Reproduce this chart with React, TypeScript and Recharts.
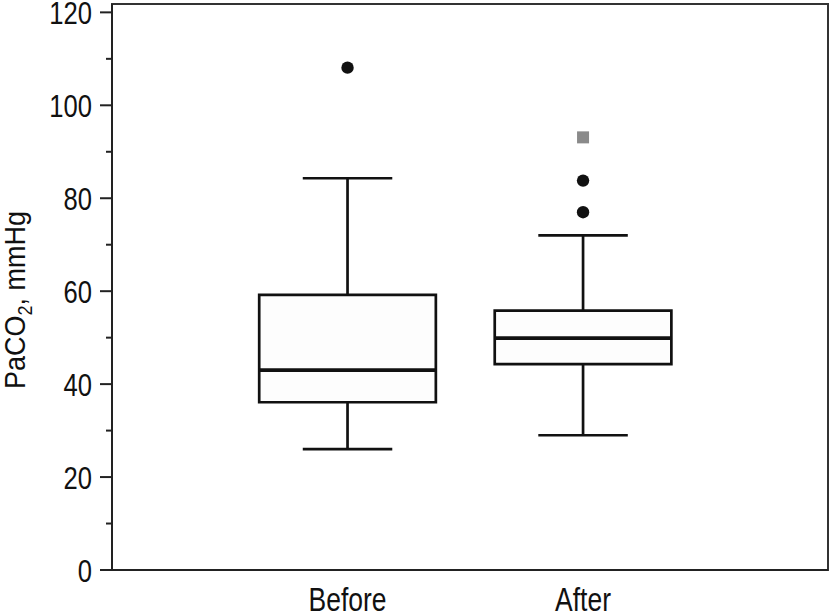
import React from 'react';
import {
  ComposedChart,
  XAxis,
  YAxis,
  Scatter,
  ReferenceArea,
  ReferenceLine,
  Label,
} from 'recharts';

// ---- data ----
const categories = ['Before', 'After'];
const whiskerLow = [26.0, 29.0];
const q1 = [36.1, 44.3];
const median = [43.0, 49.9];
const q3 = [59.2, 55.8];
const whiskerHigh = [84.3, 72.0];
const outliersCircle = [
  { x: 1, y: 108.1 },
  { x: 2, y: 83.8 },
  { x: 2, y: 77.0 },
];
const outliersSquare = [{ x: 2, y: 93.1 }];
const yTicks = [0, 10, 20, 30, 40, 50, 60, 70, 80, 90, 100, 110, 120];
const xTicks = [1, 2];

const Y_MAX = 121.8;
const X_MAX = 3.04;
const BOX_HALF = 0.375;
const CAP_HALF = 0.19;

const FONT = "'Liberation Sans', Arial, sans-serif";
const INK = '#111';

const YTick = (props: any) => {
  const { x, y, payload } = props;
  const major = payload.value % 20 === 0;
  return (
    <g>
      <line x1={x - (major ? 12 : 6)} x2={x} y1={y} y2={y} stroke="#222" strokeWidth={2} />
      {major && (
        <text
          transform={`translate(${x - 20}, ${y + 11.5}) scale(0.8, 1)`}
          x={0}
          y={0}
          textAnchor="end"
          fontFamily={FONT}
          fontSize={32}
          fill={INK}
        >
          {payload.value}
        </text>
      )}
    </g>
  );
};

const XTick = (props: any) => {
  const { x, y, payload } = props;
  return (
    <text
      transform={`translate(${x}, ${y + 41}) scale(0.79, 1)`}
      x={0}
      y={0}
      textAnchor="middle"
      fontFamily={FONT}
      fontSize={33.5}
      fill={INK}
    >
      {categories[payload.value - 1]}
    </text>
  );
};

const YLabel = (props: any) => {
  const vb = props.viewBox || { x: 0, y: 0, width: 0, height: 0 };
  const cx = 25;
  const cy = vb.y + vb.height / 2 + 13;
  return (
    <text
      transform={`translate(${cx}, ${cy}) rotate(-90) scale(0.9, 1)`}
      x={0}
      y={0}
      textAnchor="middle"
      fontFamily={FONT}
      fontSize={30}
      fill={INK}
    >
      PaCO
      <tspan dy={7} fontSize={20}>2</tspan>
      <tspan dy={-7}>, mmHg</tspan>
    </text>
  );
};

const Circle = (props: any) => <circle cx={props.cx} cy={props.cy} r={6.2} fill={INK} />;
const Square = (props: any) => (
  <rect x={props.cx - 6} y={props.cy - 6} width={12} height={12} fill="#8a8a8a" />
);

export default function App() {
  return (
    <div style={{ position: 'absolute', left: 0, top: 0, background: '#fff' }}>
      <ComposedChart
        width={829}
        height={613}
        margin={{ top: 4, right: 1, bottom: 1, left: 12 }}
      >
        <XAxis
          type="number"
          dataKey="x"
          domain={[0, X_MAX]}
          allowDataOverflow
          ticks={xTicks}
          tick={<XTick />}
          tickLine={false}
          tickSize={0}
          tickMargin={0}
          height={42}
          axisLine={{ stroke: '#222', strokeWidth: 2 }}
        />
        <YAxis
          type="number"
          dataKey="y"
          domain={[0, Y_MAX]}
          allowDataOverflow
          ticks={yTicks}
          interval={0}
          tick={<YTick />}
          tickLine={false}
          tickSize={0}
          tickMargin={0}
          width={100}
          axisLine={{ stroke: '#222', strokeWidth: 2 }}
        >
          <Label content={<YLabel />} />
        </YAxis>
        <ReferenceArea
          x1={0}
          x2={X_MAX}
          y1={0}
          y2={Y_MAX}
          fill="none"
          stroke="#333"
          strokeWidth={2}
          fillOpacity={0}
        />
        {categories.map((c, i) => (
          <ReferenceLine
            key={`wh-${c}`}
            segment={[
              { x: i + 1, y: q3[i] },
              { x: i + 1, y: whiskerHigh[i] },
            ]}
            stroke={INK}
            strokeWidth={2.7}
          />
        ))}
        {categories.map((c, i) => (
          <ReferenceLine
            key={`wl-${c}`}
            segment={[
              { x: i + 1, y: whiskerLow[i] },
              { x: i + 1, y: q1[i] },
            ]}
            stroke={INK}
            strokeWidth={2.7}
          />
        ))}
        {categories.map((c, i) => (
          <ReferenceLine
            key={`ch-${c}`}
            segment={[
              { x: i + 1 - CAP_HALF, y: whiskerHigh[i] },
              { x: i + 1 + CAP_HALF, y: whiskerHigh[i] },
            ]}
            stroke={INK}
            strokeWidth={2.7}
          />
        ))}
        {categories.map((c, i) => (
          <ReferenceLine
            key={`cl-${c}`}
            segment={[
              { x: i + 1 - CAP_HALF, y: whiskerLow[i] },
              { x: i + 1 + CAP_HALF, y: whiskerLow[i] },
            ]}
            stroke={INK}
            strokeWidth={2.7}
          />
        ))}
        {categories.map((c, i) => (
          <ReferenceArea
            key={`box-${c}`}
            x1={i + 1 - BOX_HALF}
            x2={i + 1 + BOX_HALF}
            y1={q1[i]}
            y2={q3[i]}
            fill="#fdfdfd"
            fillOpacity={1}
            stroke={INK}
            strokeWidth={2.7}
          />
        ))}
        {categories.map((c, i) => (
          <ReferenceLine
            key={`med-${c}`}
            segment={[
              { x: i + 1 - BOX_HALF, y: median[i] },
              { x: i + 1 + BOX_HALF, y: median[i] },
            ]}
            stroke={INK}
            strokeWidth={3.7}
          />
        ))}
        <Scatter data={outliersCircle} shape={<Circle />} isAnimationActive={false} />
        <Scatter data={outliersSquare} shape={<Square />} isAnimationActive={false} />
      </ComposedChart>
    </div>
  );
}
